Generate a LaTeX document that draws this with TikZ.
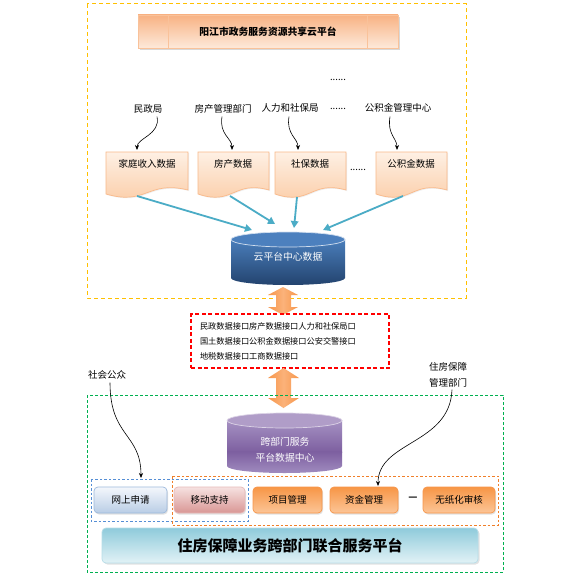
\documentclass[tikz,border=0pt]{standalone}
\usepackage{fontspec}
\setmainfont{Noto Sans CJK SC}
\usetikzlibrary{arrows.meta,shadows,calc}
\definecolor{ydash}{HTML}{FFC000}
\definecolor{gdash}{HTML}{00B050}
\definecolor{rdash}{HTML}{FF0000}
\definecolor{bdash}{HTML}{558ED5}
\definecolor{odash}{HTML}{F07F2A}
\definecolor{tealA}{HTML}{4BACC6}
\definecolor{docTop}{HTML}{FEF0E4}
\definecolor{docBot}{HTML}{FBCBA4}
\definecolor{docBorder}{HTML}{F9B98A}
\definecolor{banTop}{HTML}{F8B283}
\definecolor{banBot}{HTML}{FDE9DA}
\definecolor{banLine}{HTML}{F9C29A}
\definecolor{cylTop}{HTML}{4A7EBB}
\definecolor{cylBot}{HTML}{23436E}
\definecolor{cylCap}{HTML}{4C80BE}
\definecolor{pTop}{HTML}{A591C2}
\definecolor{pMid}{HTML}{7D5FA0}
\definecolor{pBot}{HTML}{A08BBF}
\definecolor{pCap}{HTML}{B09DC8}
\definecolor{arrTop}{HTML}{F7964A}
\definecolor{arrMid}{HTML}{FBB27A}
\definecolor{btnBlueTop}{HTML}{F4F7FC}
\definecolor{btnBlueBot}{HTML}{B9CDE5}
\definecolor{btnBlueBd}{HTML}{9DB9DC}
\definecolor{btnPinkTop}{HTML}{F6E2E1}
\definecolor{btnPinkBot}{HTML}{D99694}
\definecolor{btnPinkBd}{HTML}{E6B9B8}
\definecolor{btnOrTop}{HTML}{F79646}
\definecolor{btnOrBot}{HTML}{FCC597}
\definecolor{btnOrBd}{HTML}{F7964A}
\definecolor{barTop}{HTML}{8FCBDB}
\definecolor{barBot}{HTML}{E2F2F6}
\definecolor{barBd}{HTML}{B7DDE8}
\newcommand\mydoc[4]{%
  \shade[top color=docTop, bottom color=docBot, draw=docBorder, line width=0.7pt,
    drop shadow={shadow xshift=1pt,shadow yshift=-1pt,fill=black!12}]
  (#1,#2) -- (#3,#2) -- (#3,#4-4) .. controls ({(#1+#3)/2},#4-14) and ({(#1+#3)/2},#4+12) .. (#1,#4) -- cycle;}
\begin{document}
\begin{tikzpicture}[x=1pt,y=-1pt,
  lbl/.style={font=\fontsize{9.5}{11}\selectfont, inner sep=1pt},
  doctext/.style={font=\fontsize{9.5}{11}\selectfont, inner sep=1pt},
  cyltext/.style={font=\fontsize{9.8}{16}\selectfont, text=white, inner sep=1pt},
  tealarrow/.style={draw=tealA, line width=1.8pt, -{Triangle[length=7pt,width=7.5pt]}},
  curvearrow/.style={draw=black, line width=0.6pt, -{Stealth[length=5pt,width=4pt]}},
  btn/.style={rounded corners=4pt, minimum height=26pt, inner sep=0pt, line width=0.7pt,
    font=\fontsize{9.5}{11}\selectfont,
    drop shadow={shadow xshift=1pt,shadow yshift=-1.5pt,fill=black!22}},
  btnblue/.style={btn, top color=btnBlueTop, bottom color=btnBlueBot, draw=btnBlueBd},
  btnpink/.style={btn, top color=btnPinkTop, bottom color=btnPinkBot, draw=btnPinkBd},
  btnor/.style={btn, top color=btnOrTop, bottom color=btnOrBot, draw=btnOrBd},
  dblarrow/.style={left color=arrTop, right color=arrTop, middle color=arrMid, draw=none}
]
\useasboundingbox (0,0) rectangle (560,578);
\fill[white] (0,0) rectangle (560,578);

% ---------- upper yellow frame ----------
\draw[ydash, line width=1pt, dash pattern=on 4pt off 3pt] (87,4) rectangle (466,298);

% title banner
\node[top color=banTop, bottom color=banBot, draw=banLine, line width=0.6pt,
  minimum width=260pt, minimum height=33pt, inner sep=0pt,
  font=\fontsize{9.8}{11}\selectfont\bfseries,
  drop shadow={shadow xshift=2pt,shadow yshift=-2pt,fill=black!30}]
  (title) at (268,31.5) {阳江市政务服务资源共享云平台};
\draw[banLine, line width=0.8pt] (title.north west) ++(31,0) -- ++(0,33);
\draw[banLine, line width=0.8pt] (title.north east) ++(-31,0) -- ++(0,33);

\node[lbl] (topdots) at (338,80) {......};

% departments
\node[lbl] (l1) at (148,109) {民政局};
\node[lbl] (l2) at (223,109) {房产管理部门};
\node[lbl] (l3) at (290,108) {人力和社保局};
\node[lbl] (ldots) at (338,109) {......};
\node[lbl] (l4) at (398,108) {公积金管理中心};

% documents
\mydoc{106}{152}{188}{194}
\mydoc{198}{152}{269}{194}
\mydoc{275}{152}{346}{194}
\mydoc{376}{152}{447}{194}
\node[doctext] (d1) at (147,164) {家庭收入数据};
\node[doctext] (d2) at (233,164) {房产数据};
\node[doctext] (d3) at (310,164) {社保数据};
\node[lbl] (ddots) at (358,170) {......};
\node[doctext] (d4) at (411,164) {公积金数据};

\coordinate (d1t) at (137,150);
\coordinate (d2t) at (232,150);
\coordinate (d3t) at (298,150);
\coordinate (d4t) at (397,150);
\draw[curvearrow] ($(l1.south)+(9,2)$) .. controls +(4,18) and +(0,-12) .. (d1t);
\draw[curvearrow] ($(l2.south)+(-1,2)$) .. controls +(-3,18) and +(0,-12) .. (d2t);
\draw[curvearrow] ($(l3.south)+(-1,3)$) .. controls +(-3,18) and +(0,-12) .. (d3t);
\draw[curvearrow] ($(l4.south)+(-8,3)$) .. controls +(-3,18) and +(0,-12) .. (d4t);

% cloud cylinder
\shade[top color=cylTop, bottom color=cylBot] (231,239.5) -- (231,278)
  .. controls (231,281.9) and (256.5,285) .. (288,285)
  .. controls (319.5,285) and (345,281.9) .. (345,278) -- (345,239.5) -- cycle;
\fill[cylCap] (288,239.5) ellipse [x radius=57, y radius=7.5];
\draw[white!75!cylCap, line width=0.7pt] (288,239.5) ellipse [x radius=57, y radius=7.5];
\node[cyltext] (cloud) at (288,257) {云平台中心数据};

\coordinate (d1b) at (137,196);
\coordinate (d2b) at (230,196);
\coordinate (d3b) at (297,197);
\coordinate (d4b) at (403,196);
\coordinate (c1) at (252,230);
\coordinate (c2) at (275,224);
\coordinate (c3) at (294,228);
\coordinate (c4) at (323,230);
\draw[tealarrow] (d1b) -- (c1);
\draw[tealarrow] (d2b) -- (c2);
\draw[tealarrow] (d3b) -- (c3);
\draw[tealarrow] (d4b) -- (c4);

% double arrow 1
\shade[dblarrow] (268,295) -- (283,287) -- (298,295) -- (291,295) -- (291,307) -- (298,307)
  -- (283,315) -- (268,307) -- (276,307) -- (276,295) -- cycle;

% interface box
\node[draw=rdash, line width=1.1pt, dash pattern=on 4pt off 2.5pt,
  minimum width=198pt, minimum height=54pt, inner xsep=9pt, text width=180pt, align=left,
  font=\fontsize{8.2}{15}\selectfont]
  (iface) at (290,341) {民政数据接口房产数据接口人力和社保局口\\国土数据接口公积金数据接口公安交警接口\\地税数据接口工商数据接口};

% double arrow 2
\shade[dblarrow] (268,378) -- (283.5,368) -- (299,378) -- (291,378) -- (291,398) -- (299,398)
  -- (283.5,408) -- (268,398) -- (276,398) -- (276,378) -- cycle;

% ---------- lower green frame ----------
\draw[gdash, line width=1pt, dash pattern=on 3pt off 2pt] (87,395) rectangle (503,572);

\node[lbl] (pub) at (107,375) {社会公众};
\node[lbl, align=center, font=\fontsize{9.5}{16}\selectfont] (mgr) at (448,375) {住房保障\\管理部门};

% purple cylinder
\shade[top color=pTop, bottom color=pMid] (227,420.5) rectangle (342,452);
\shade[top color=pMid, bottom color=pBot] (227,451.5) -- (227,466)
  .. controls (227,469.9) and (252.8,473) .. (284.5,473)
  .. controls (316.2,473) and (342,469.9) .. (342,466) -- (342,451.5) -- cycle;
\fill[pCap] (284.5,420.5) ellipse [x radius=57.5, y radius=7.5];
\draw[white!55!pCap, line width=0.7pt] (284.5,420.5) ellipse [x radius=57.5, y radius=7.5];
\node[cyltext, align=center] (xd) at (285,450) {跨部门服务\\平台数据中心};

% dashed groups
\draw[bdash, line width=1pt, dash pattern=on 2.5pt off 2pt] (91,479) rectangle (248,521);
\draw[odash, line width=1pt, dash pattern=on 2.5pt off 2pt] (172,476) rectangle (498,525);

% buttons
\node[btnblue, minimum width=73pt] (b1) at (130.5,500) {网上申请};
\node[btnpink, minimum width=71pt] (b2) at (209.5,500) {移动支持};
\node[btnor, minimum width=69pt] (b3) at (287.5,500) {项目管理};
\node[btnor, minimum width=68pt] (b4) at (364,500) {资金管理};
\node[font=\fontsize{10}{11}\selectfont\bfseries, inner sep=0pt] (bdots) at (413,499) {---};
\node[btnor, minimum width=72pt] (b5) at (459,500) {无纸化审核};

% big bar
\node[rounded corners=4pt, top color=barTop, bottom color=barBot, draw=barBd, line width=0.7pt,
  minimum width=376pt, minimum height=35pt, inner sep=0pt,
  font=\fontsize{15}{17}\selectfont\bfseries,
  drop shadow={shadow xshift=1.5pt,shadow yshift=-1.5pt,fill=black!22}]
  (bar) at (290,545.5) {住房保障业务跨部门联合服务平台};

% curved arrows bottom
\coordinate (b1t) at (141,478);
\coordinate (b4t) at (378,486);
\draw[curvearrow] ($(pub.south)+(3,2)$) .. controls +(0,55) and +(0,-45) .. (b1t);
\draw[curvearrow] ($(mgr.south)+(4,1)$) .. controls +(-2,55) and +(0,-45) .. (b4t);
\end{tikzpicture}
\end{document}
